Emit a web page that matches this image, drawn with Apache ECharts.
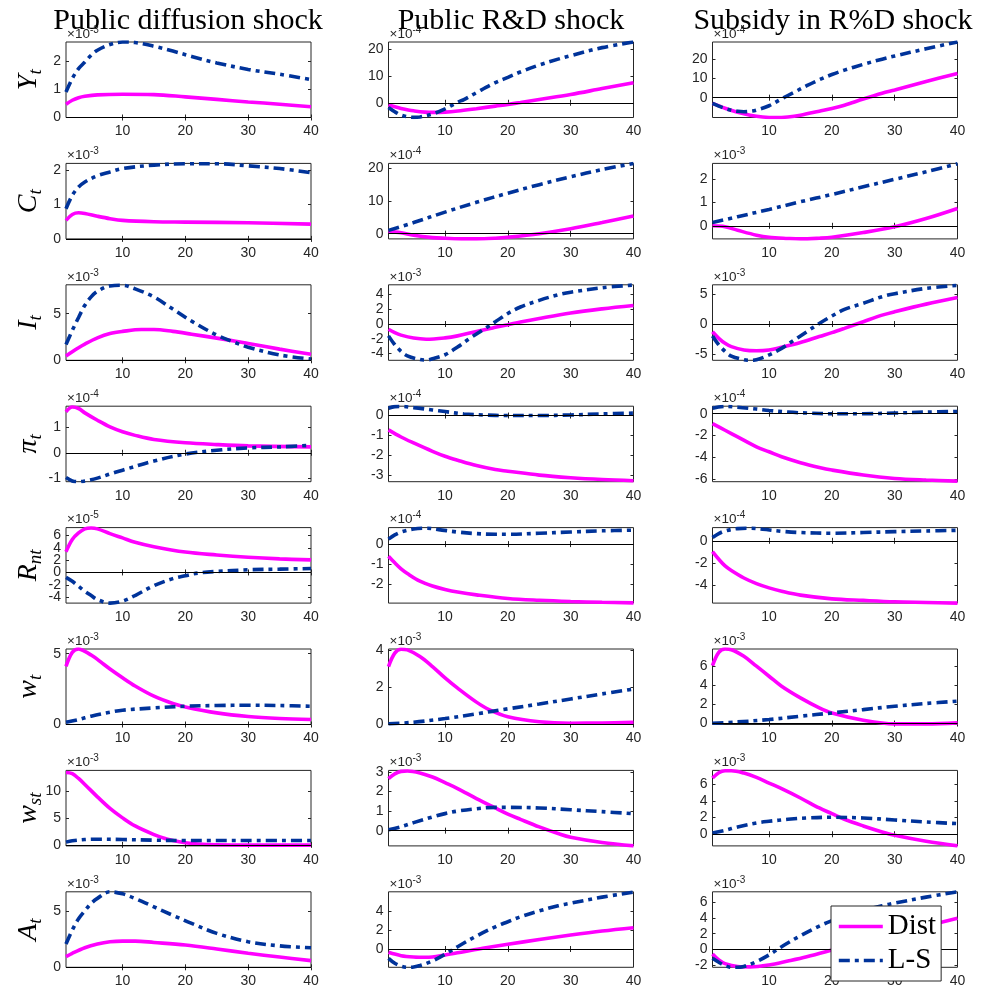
<!DOCTYPE html>
<html>
<head>
<meta charset="utf-8">
<title>Impulse responses</title>
<script src="https://cdn.jsdelivr.net/npm/echarts@6/dist/echarts.min.js"></script>
<style>
  html, body { margin: 0; padding: 0; background: #fff; }
  #main { width: 981px; height: 989px; }
</style>
</head>
<body>
<div id="main"></div>
<script>
// columns: pd = public diffusion, rd = public R&D, sub = subsidy in R&D
// values in units of the panel's 10^k factor, [period, value]

// Y_t
const Y_pd_dist = [[1,0.47],[2,0.61],[3,0.70],[4,0.75],[6,0.80],[10,0.82],[15,0.81],[20,0.73],[25,0.64],[30,0.55],[35,0.47],[40,0.38]];
const Y_pd_ls   = [[1,0.90],[2,1.38],[3,1.73],[4,1.96],[5,2.20],[6,2.38],[8,2.58],[10,2.67],[12,2.65],[15,2.52],[18,2.35],[21,2.16],[25,1.93],[30,1.70],[35,1.53],[40,1.34]];
const Y_rd_dist = [[1,-0.87],[3,-2.1],[5,-3.0],[8,-3.6],[10,-3.5],[12,-3.1],[15,-2.2],[18,-1.24],[20,-0.62],[22,0.12],[25,1.24],[30,3.1],[35,5.3],[40,7.45]];
const Y_rd_ls   = [[1,-1.74],[2,-3.35],[3,-4.6],[4,-5.2],[5,-5.47],[6,-5.3],[8,-4.2],[10,-2.3],[12,0.2],[13,1.2],[15,3.8],[18,7.5],[20,9.5],[22,11.5],[25,14.1],[28,16.3],[30,17.6],[35,20.6],[40,22.7]];
const Y_sub_dist = [[1,-3.0],[3,-5.5],[5,-7.6],[7,-9.1],[9,-10.0],[11,-10.3],[13,-10.0],[15,-9.1],[18,-7.0],[20,-5.6],[22,-3.9],[25,-0.7],[28,2.3],[30,4.0],[35,8.4],[40,12.5]];
const Y_sub_ls   = [[1,-3.0],[2,-4.4],[3,-5.6],[4,-6.5],[5,-7.1],[6,-7.3],[7,-7.1],[8,-6.5],[10,-4.2],[12,-0.6],[14,2.8],[16,6.2],[18,9.3],[20,12.0],[22,14.3],[25,17.3],[28,20.0],[30,21.6],[35,25.4],[40,28.9]];

// C_t
const C_pd_dist = [[1,0.54],[2,0.71],[3,0.76],[4,0.74],[6,0.66],[8,0.59],[10,0.54],[15,0.50],[20,0.49],[30,0.47],[40,0.43]];
const C_pd_ls   = [[1,0.88],[2,1.27],[3,1.51],[4,1.66],[6,1.84],[8,1.95],[10,2.05],[15,2.15],[20,2.19],[25,2.19],[30,2.13],[35,2.05],[40,1.93]];
const C_rd_dist = [[1,0.7],[3,0.3],[5,-0.5],[8,-1.2],[10,-1.4],[13,-1.6],[15,-1.6],[18,-1.4],[20,-1.1],[25,0],[30,1.5],[35,3.4],[40,5.4]];
const C_rd_ls   = [[1,1.0],[5,3.4],[10,6.6],[15,9.6],[20,12.4],[25,15.0],[30,17.4],[35,19.6],[40,21.5]];
const C_sub_dist = [[1,0],[3,-0.04],[5,-0.19],[8,-0.4],[10,-0.49],[13,-0.54],[15,-0.56],[18,-0.53],[20,-0.49],[25,-0.29],[30,-0.04],[35,0.31],[40,0.74]];
const C_sub_ls   = [[1,0.14],[5,0.39],[10,0.70],[15,1.03],[20,1.34],[25,1.67],[30,1.99],[35,2.31],[40,2.65]];

// I_t
const I_pd_dist = [[1,0.46],[2,0.92],[3,1.35],[4,1.74],[6,2.4],[8,2.87],[10,3.1],[13,3.3],[15,3.3],[18,3.1],[21,2.8],[25,2.38],[28,2.05],[30,1.8],[35,1.2],[40,0.64]];
const I_pd_ls   = [[1,1.7],[2,3.2],[3,4.6],[4,5.9],[5,6.8],[6,7.4],[8,7.98],[10,8.05],[12,7.66],[15,6.8],[18,5.5],[21,4.2],[25,2.7],[28,1.88],[30,1.4],[35,0.57],[40,0.14]];
const I_rd_dist = [[1,-0.7],[2,-1.16],[3,-1.5],[5,-1.9],[7,-2.05],[10,-1.87],[12,-1.6],[15,-1.0],[18,-0.45],[20,-0.1],[22,0.27],[25,0.76],[30,1.5],[35,2.05],[40,2.5]];
const I_rd_ls   = [[1,-1.6],[2,-2.8],[3,-3.7],[4,-4.3],[6,-4.8],[7,-4.87],[8,-4.7],[10,-4.15],[12,-3.1],[14,-1.9],[16,-0.8],[18,0.3],[20,1.43],[22,2.3],[25,3.2],[28,3.95],[30,4.3],[35,4.9],[40,5.27]];
const I_sub_dist = [[1,-1.3],[2,-2.4],[3,-3.24],[4,-3.8],[6,-4.36],[8,-4.5],[10,-4.36],[12,-3.9],[15,-3.1],[18,-2.1],[20,-1.45],[22,-0.73],[25,0.39],[28,1.5],[30,2.07],[35,3.35],[40,4.47]];
const I_sub_ls   = [[1,-2.0],[2,-3.5],[3,-4.6],[4,-5.4],[6,-6.0],[7,-6.1],[8,-6.0],[10,-5.2],[12,-4.1],[14,-2.7],[16,-1.3],[18,0.1],[20,1.34],[22,2.46],[25,3.5],[28,4.6],[30,5.1],[35,6.0],[40,6.5]];

// pi_t
const P_pd_dist = [[1,1.6],[2,1.79],[3,1.73],[4,1.56],[6,1.27],[8,1.01],[10,0.82],[12,0.68],[15,0.52],[20,0.39],[25,0.32],[30,0.27],[40,0.23]];
const P_pd_ls   = [[1,-0.97],[2,-1.1],[3,-1.13],[4,-1.1],[6,-0.99],[8,-0.83],[10,-0.68],[15,-0.32],[20,-0.05],[25,0.1],[30,0.19],[35,0.23],[40,0.29]];
const P_rd_dist = [[1,-0.72],[3,-1.08],[5,-1.38],[8,-1.8],[10,-2.05],[12,-2.25],[15,-2.52],[18,-2.72],[20,-2.8],[25,-3.0],[30,-3.13],[35,-3.22],[40,-3.28]];
const P_rd_ls   = [[1,0.37],[2,0.45],[3,0.46],[5,0.4],[8,0.28],[10,0.2],[13,0.08],[16,0.03],[20,0],[25,0],[30,0.03],[35,0.08],[40,0.12]];
const P_sub_dist = [[1,-0.91],[3,-1.52],[5,-2.13],[8,-3.05],[10,-3.5],[12,-3.96],[15,-4.5],[18,-4.94],[20,-5.18],[25,-5.64],[30,-5.95],[35,-6.1],[40,-6.2]];
const P_sub_ls   = [[1,0.5],[3,0.67],[5,0.6],[8,0.43],[10,0.3],[13,0.15],[16,0.06],[20,0],[25,0],[30,0.06],[35,0.15],[40,0.21]];

// R_nt
const R_pd_dist = [[1,3.37],[2,5.35],[3,6.4],[4,7.06],[5,7.2],[6,7.06],[8,6.3],[10,5.6],[12,4.9],[15,4.17],[20,3.3],[25,2.83],[30,2.46],[35,2.2],[40,2.03]];
const R_pd_ls   = [[1,-0.8],[2,-1.44],[3,-2.25],[4,-3.05],[5,-3.74],[6,-4.4],[8,-4.97],[10,-4.65],[12,-3.74],[15,-2.14],[18,-1.0],[20,-0.53],[22,-0.1],[25,0.16],[30,0.43],[35,0.53],[40,0.64]];
const R_rd_dist = [[1,-0.6],[2,-0.93],[3,-1.23],[4,-1.46],[6,-1.84],[8,-2.08],[10,-2.25],[12,-2.38],[15,-2.52],[20,-2.7],[25,-2.79],[30,-2.85],[35,-2.89],[40,-2.92]];
const R_rd_ls   = [[1,0.25],[2,0.46],[3,0.6],[5,0.75],[7,0.79],[9,0.72],[12,0.6],[15,0.52],[18,0.49],[20,0.49],[25,0.54],[30,0.6],[35,0.66],[40,0.69]];
const R_sub_dist = [[1,-0.97],[2,-1.65],[3,-2.24],[4,-2.65],[6,-3.32],[8,-3.82],[10,-4.2],[12,-4.5],[15,-4.85],[20,-5.18],[25,-5.32],[30,-5.44],[35,-5.5],[40,-5.56]];
const R_sub_ls   = [[1,0.29],[2,0.65],[3,0.88],[5,1.09],[7,1.12],[9,1.03],[12,0.85],[15,0.74],[20,0.68],[25,0.74],[30,0.82],[35,0.88],[40,0.94]];

// w_t
const W_pd_dist = [[1,4.1],[2,5.09],[3,5.33],[4,5.16],[5,4.9],[6,4.6],[7,4.25],[8,3.92],[10,3.3],[12,2.72],[15,2.0],[18,1.48],[20,1.24],[25,0.82],[30,0.56],[35,0.42],[40,0.35]];
const W_pd_ls   = [[1,0.16],[3,0.35],[5,0.59],[8,0.87],[10,1.01],[15,1.17],[20,1.29],[25,1.34],[30,1.36],[35,1.34],[40,1.29]];
const W_rd_dist = [[1,3.11],[2,3.83],[3,4.04],[4,4.0],[6,3.65],[8,3.11],[10,2.5],[12,1.95],[15,1.2],[17,0.8],[20,0.42],[25,0.15],[30,0.07],[35,0.08],[40,0.12]];
const W_rd_ls   = [[1,0.04],[5,0.12],[10,0.32],[15,0.57],[20,0.84],[25,1.1],[30,1.37],[35,1.64],[40,1.9]];
const W_sub_dist = [[1,6.06],[2,7.45],[3,7.8],[4,7.73],[6,7.04],[8,6.0],[10,4.95],[12,3.9],[15,2.68],[18,1.64],[20,1.11],[25,0.35],[30,-0.03],[35,-0.03],[40,0.07]];
const W_sub_ls   = [[1,0.03],[5,0.17],[10,0.42],[15,0.77],[20,1.11],[25,1.46],[30,1.81],[35,2.1],[40,2.34]];

// w_st
const S_pd_dist = [[1,13.4],[2,13.2],[3,12.3],[4,11.2],[6,8.9],[8,6.75],[10,5.0],[12,3.5],[15,1.9],[17,1.1],[18,0.8],[20,0.4],[22,0.15],[25,0.0],[30,-0.05],[40,-0.05]];
const S_pd_ls   = [[1,0.5],[2,0.74],[4,0.98],[6,1.04],[10,0.98],[15,0.86],[20,0.8],[30,0.8],[40,0.8]];
const S_rd_dist = [[1,2.66],[2,2.9],[3,3.03],[4,3.05],[6,2.95],[8,2.74],[10,2.45],[12,2.15],[15,1.64],[18,1.16],[20,0.85],[22,0.58],[25,0.19],[28,-0.15],[30,-0.34],[35,-0.61],[40,-0.78]];
const S_rd_ls   = [[1,0.05],[3,0.2],[5,0.41],[8,0.7],[10,0.87],[12,1.0],[15,1.12],[18,1.19],[20,1.19],[25,1.16],[30,1.07],[35,0.97],[40,0.87]];
const S_sub_dist = [[1,6.76],[2,7.4],[3,7.64],[4,7.64],[6,7.36],[8,6.84],[10,6.16],[12,5.48],[15,4.36],[18,3.16],[20,2.48],[22,1.8],[25,1.0],[28,0.28],[30,-0.12],[35,-0.84],[40,-1.4]];
const S_sub_ls   = [[1,0.16],[3,0.48],[5,0.88],[8,1.36],[10,1.56],[13,1.8],[16,1.96],[20,2.04],[25,1.96],[30,1.72],[35,1.48],[40,1.28]];

// A_t
const A_pd_dist = [[1,0.94],[2,1.24],[4,1.73],[6,2.06],[8,2.26],[10,2.32],[12,2.32],[15,2.2],[20,1.97],[25,1.62],[30,1.24],[35,0.91],[40,0.59]];
const A_pd_ls   = [[1,2.06],[2,3.3],[3,4.3],[4,5.0],[5,5.65],[6,6.1],[8,6.68],[10,6.5],[12,6.09],[15,5.35],[18,4.6],[21,3.88],[25,3.0],[30,2.26],[35,1.9],[40,1.73]];
const A_rd_dist = [[1,-0.35],[3,-0.7],[5,-0.84],[7,-0.87],[10,-0.63],[13,-0.28],[16,0.07],[20,0.49],[25,1.0],[30,1.46],[35,1.88],[40,2.23]];
const A_rd_ls   = [[1,-0.98],[2,-1.5],[3,-1.8],[4,-1.92],[5,-1.88],[6,-1.74],[8,-1.25],[10,-0.56],[12,0.24],[15,1.36],[18,2.33],[20,2.86],[22,3.38],[25,4.0],[28,4.53],[30,4.8],[35,5.44],[40,5.96]];
const A_sub_dist = [[1,-0.6],[2,-1.36],[3,-1.83],[5,-2.2],[7,-2.25],[10,-2.0],[13,-1.49],[16,-0.94],[20,-0.09],[25,1.0],[30,2.0],[35,3.0],[40,3.96]];
const A_sub_ls   = [[1,-1.15],[2,-1.66],[3,-2.08],[4,-2.3],[5,-2.3],[6,-2.2],[8,-1.57],[10,-0.72],[12,0.34],[15,1.74],[18,2.98],[20,3.66],[22,4.26],[25,4.98],[28,5.57],[30,5.91],[35,6.68],[40,7.36]];

const shocks = ['Public diffusion shock', 'Public R&D shock', 'Subsidy in R%D shock'];
const varNames = [['Y','t'], ['C','t'], ['I','t'], ['π','t'], ['R','nt'], ['w','t'], ['w','st'], ['A','t']];
const xTicks = [10, 20, 30, 40];

const distData = [
  [Y_pd_dist, Y_rd_dist, Y_sub_dist],
  [C_pd_dist, C_rd_dist, C_sub_dist],
  [I_pd_dist, I_rd_dist, I_sub_dist],
  [P_pd_dist, P_rd_dist, P_sub_dist],
  [R_pd_dist, R_rd_dist, R_sub_dist],
  [W_pd_dist, W_rd_dist, W_sub_dist],
  [S_pd_dist, S_rd_dist, S_sub_dist],
  [A_pd_dist, A_rd_dist, A_sub_dist]
];
const lsData = [
  [Y_pd_ls, Y_rd_ls, Y_sub_ls],
  [C_pd_ls, C_rd_ls, C_sub_ls],
  [I_pd_ls, I_rd_ls, I_sub_ls],
  [P_pd_ls, P_rd_ls, P_sub_ls],
  [R_pd_ls, R_rd_ls, R_sub_ls],
  [W_pd_ls, W_rd_ls, W_sub_ls],
  [S_pd_ls, S_rd_ls, S_sub_ls],
  [A_pd_ls, A_rd_ls, A_sub_ls]
];
const yLim = [
  [[0, 2.67], [-5.5, 22.7], [-10.3, 28.9]],
  [[0, 2.2], [-1.6, 21.5], [-0.56, 2.67]],
  [[0, 8.1], [-4.9, 5.3], [-6.1, 6.6]],
  [[-1.13, 1.82], [-3.33, 0.47], [-6.25, 0.69]],
  [[-4.97, 7.27], [-2.93, 0.82], [-5.56, 1.18]],
  [[0, 5.33], [0, 4.05], [-0.1, 7.8]],
  [[-0.2, 13.8], [-0.78, 3.08], [-1.4, 7.68]],
  [[0, 6.68], [-1.92, 6.0], [-2.3, 7.36]]
];
const yTicks = [
  [[0, 1, 2], [0, 10, 20], [0, 10, 20]],
  [[0, 1, 2], [0, 10, 20], [0, 1, 2]],
  [[0, 5], [-4, -2, 0, 2, 4], [-5, 0, 5]],
  [[-1, 0, 1], [-3, -2, -1, 0], [-6, -4, -2, 0]],
  [[-4, -2, 0, 2, 4, 6], [-2, -1, 0], [-4, -2, 0]],
  [[0, 5], [0, 2, 4], [0, 2, 4, 6]],
  [[0, 5, 10], [0, 1, 2, 3], [0, 2, 4, 6]],
  [[0, 5], [0, 2, 4], [-2, 0, 2, 4, 6]]
];
const expo = [
  [-3, -4, -4],
  [-3, -4, -3],
  [-3, -3, -3],
  [-4, -4, -4],
  [-5, -4, -4],
  [-3, -3, -3],
  [-3, -3, -3],
  [-3, -3, -3]
];

const colLeft = [66, 388.5, 712.5];
const gridW = 245, gridH = 75.5, rowTop0 = 42, rowStep = 121.4;
const axisColor = '#262626';
const distColor = '#ff00ff';
const lsColor = '#00339a';

let grid = [], xAxis = [], yAxis = [], series = [], graphic = [];

for (let r = 0; r < 8; r++) {
  for (let c = 0; c < 3; c++) {
    const k = r * 3 + c;
    const top = rowTop0 + r * rowStep;
    const [ymin, ymax] = yLim[r][c];
    const ticks = yTicks[r][c];
    // tightly packed tick labels get dropped by the overlap check,
    // so every other label goes on a second (tickless) left axis
    const evenLbl = ticks.filter((v, i) => i % 2 === 0);
    const oddLbl = ticks.filter((v, i) => i % 2 === 1);

    grid.push({
      left: colLeft[c], top: top, width: gridW, height: gridH,
      show: true, borderColor: axisColor, borderWidth: 1
    });
    const tick = {inside: true, length: 3, lineStyle: {color: axisColor, width: 1}};
    const lbl = {color: axisColor, fontSize: 14, fontFamily: 'Liberation Sans',
                 hideOverlap: false, showMinLabel: true, showMaxLabel: true};
    xAxis.push({
      type: 'value', gridIndex: k, min: 1, max: 40, position: 'bottom',
      axisLine: {show: false}, splitLine: {show: false},
      axisTick: Object.assign({customValues: xTicks}, tick),
      axisLabel: Object.assign({customValues: xTicks, margin: 7}, lbl)
    });
    xAxis.push({
      type: 'value', gridIndex: k, min: 1, max: 40, position: 'top',
      axisLine: {show: false}, splitLine: {show: false},
      axisTick: Object.assign({customValues: xTicks}, tick),
      axisLabel: {show: false}
    });
    yAxis.push({
      type: 'value', gridIndex: k, min: ymin, max: ymax, position: 'left',
      axisLine: {show: false}, splitLine: {show: false},
      axisTick: Object.assign({customValues: ticks}, tick),
      axisLabel: Object.assign({customValues: evenLbl, margin: 5}, lbl)
    });
    yAxis.push({
      type: 'value', gridIndex: k, min: ymin, max: ymax, position: 'right',
      axisLine: {show: false}, splitLine: {show: false},
      axisTick: Object.assign({customValues: ticks}, tick),
      axisLabel: {show: false}
    });
    yAxis.push({
      type: 'value', gridIndex: k, min: ymin, max: ymax, position: 'left', offset: 0,
      axisLine: {show: false}, splitLine: {show: false}, axisTick: {show: false},
      axisLabel: Object.assign({customValues: oddLbl, margin: 5, show: oddLbl.length > 0}, lbl)
    });

    series.push({
      name: 'Dist', type: 'line', xAxisIndex: 2 * k, yAxisIndex: 3 * k,
      data: distData[r][c], smooth: 0.35, symbol: 'none', z: 3,
      lineStyle: {color: distColor, width: 3.6},
      itemStyle: {color: distColor},
      markLine: {
        silent: true, symbol: 'none', label: {show: false},
        lineStyle: {color: '#000', width: 1, type: 'solid'},
        data: [{yAxis: 0}]
      }
    });
    series.push({
      name: 'L-S', type: 'line', xAxisIndex: 2 * k, yAxisIndex: 3 * k,
      data: lsData[r][c], smooth: 0.35, symbol: 'none', z: 4,
      lineStyle: {color: lsColor, width: 3.6, type: [11, 5, 4, 5]},
      itemStyle: {color: lsColor}
    });

    // x10^k factor
    graphic.push({
      type: 'text', x: colLeft[c] + 1, y: top - 1,
      style: {
        text: '{b|×10}{p|' + expo[r][c] + '}',
        textVerticalAlign: 'bottom',
        rich: {
          b: {fontSize: 13.5, fontFamily: 'Liberation Sans', fill: axisColor, lineHeight: 16, verticalAlign: 'bottom'},
          p: {fontSize: 10, fontFamily: 'Liberation Sans', fill: axisColor, lineHeight: 10, verticalAlign: 'top'}
        }
      }
    });
  }
  // row label
  graphic.push({
    type: 'text', x: 29, y: rowTop0 + r * rowStep + gridH / 2,
    rotation: Math.PI / 2,
    style: {
      text: '{m|' + varNames[r][0] + '}{s|' + varNames[r][1] + '}',
      textAlign: 'center', textVerticalAlign: 'middle',
      rich: {
        m: {fontSize: 28, fontFamily: 'Liberation Serif', fontStyle: 'italic', fill: '#000', lineHeight: 32, verticalAlign: 'middle'},
        s: {fontSize: 19, fontFamily: 'Liberation Serif', fontStyle: 'italic', fill: '#000', lineHeight: 19, verticalAlign: 'bottom'}
      }
    }
  });
}

// column titles
const titleX = [188, 511, 833];
for (let c = 0; c < 3; c++) {
  graphic.push({
    type: 'text', x: titleX[c], y: 21, z: 10,
    style: {
      text: shocks[c], textAlign: 'center', textVerticalAlign: 'middle',
      fontSize: 30, fontFamily: 'Liberation Serif', fill: '#000'
    }
  });
}

const chart = echarts.init(document.getElementById('main'));
chart.setOption({
  animation: false,
  backgroundColor: '#fff',
  grid: grid,
  xAxis: xAxis,
  yAxis: yAxis,
  series: series,
  graphic: graphic,
  legend: {
    data: ['Dist', 'L-S'], orient: 'vertical', left: 831, top: 906,
    selectedMode: false, padding: [6, 5, 6, 6], itemGap: 5,
    itemWidth: 44, itemHeight: 14,
    itemStyle: {opacity: 0},
    lineStyle: {width: 3.6},
    backgroundColor: '#fff', borderColor: axisColor, borderWidth: 1,
    textStyle: {fontFamily: 'Liberation Serif', fontSize: 29, color: '#000'},
    z: 10
  }
});
</script>
</body>
</html>
